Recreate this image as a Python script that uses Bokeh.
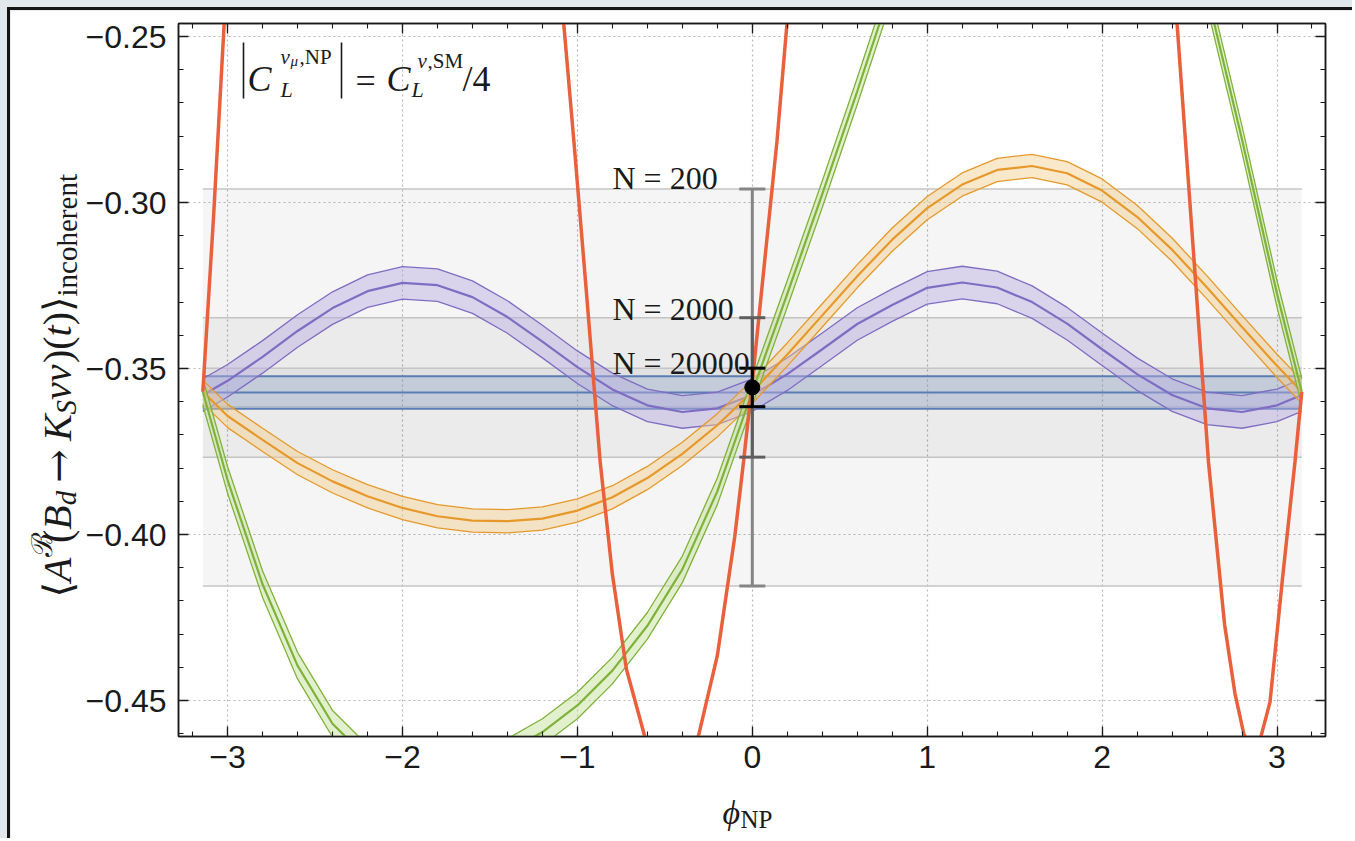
import math
from bokeh.plotting import figure
from bokeh.models import Range1d, LinearAxis, Label, FixedTicker, CustomJSTickFormatter
from bokeh.layouts import column
from bokeh.embed import file_html
from bokeh.resources import INLINE

PI = math.pi

# ---- data -------------------------------------------------------------
# common phase grid for the banded predictions
PHI = [-3.1416, -3.0, -2.8, -2.6, -2.4, -2.2, -2.0, -1.8, -1.6, -1.4, -1.2, -1.0,
       -0.8, -0.6, -0.4, -0.2, 0.0, 0.2, 0.4, 0.6, 0.8, 1.0, 1.2, 1.4, 1.6, 1.8,
       2.0, 2.2, 2.4, 2.6, 2.8, 3.0, 3.1416]

PURPLE_MID = [-0.3580, -0.3537, -0.3465, -0.3387, -0.3318, -0.3267, -0.3242, -0.3249,
              -0.3285, -0.3345, -0.3419, -0.3496, -0.3563, -0.3611, -0.3631, -0.3620,
              -0.3580, -0.3517, -0.3442, -0.3366, -0.3309, -0.3257, -0.3241, -0.3256,
              -0.3300, -0.3365, -0.3442, -0.3517, -0.3580, -0.3620, -0.3631, -0.3611,
              -0.3580]
PURPLE_HALF = 0.0049

ORANGE_MID = [-0.3570, -0.3643, -0.3715, -0.3785, -0.3840, -0.3885, -0.3920, -0.3945,
              -0.3958, -0.3960, -0.3952, -0.3928, -0.3888, -0.3830, -0.3757, -0.3671,
              -0.3570, -0.3458, -0.3340, -0.3222, -0.3112, -0.3017, -0.2946, -0.2902,
              -0.2890, -0.2912, -0.2964, -0.3043, -0.3142, -0.3256, -0.3375, -0.3492,
              -0.3570]
ORANGE_HALF = 0.0035

GREEN_MID = [-0.3570, -0.3836, -0.4150, -0.4395, -0.4570, -0.4675, -0.4700, -0.4712,
             -0.4695, -0.4655, -0.4595, -0.4515, -0.4410, -0.4275, -0.4105, -0.3870,
             -0.3570, -0.3275, -0.2975, -0.2665, -0.2345, -0.2020, -0.1750, -0.1550,
             -0.1450, -0.1450, -0.1550, -0.1750, -0.2050, -0.2370, -0.2810, -0.3275,
             -0.3570]
GREEN_HALF = 0.0040

# steep single-line prediction
RED_PHI = [-3.1416, -3.08, -3.02, -2.96, -1.14, -1.08, -1.02, -0.95, -0.87, -0.80,
           -0.72, -0.614, -0.53, -0.46, -0.38, -0.307, -0.2, -0.1, -0.05, 0.0, 0.07,
           0.141, 0.2, 0.26, 2.37, 2.427, 2.50, 2.56, 2.608, 2.70, 2.76, 2.81, 2.86,
           2.91, 2.96, 3.03, 3.103, 3.1416]
RED_MID = [-0.3570, -0.3040, -0.2465, -0.1900, -0.2090, -0.2450, -0.2816, -0.3260,
           -0.3780, -0.4120, -0.4405, -0.4610, -0.4672, -0.4690, -0.4670, -0.4605,
           -0.4365, -0.4005, -0.3780, -0.3540, -0.3180, -0.2816, -0.2450, -0.2050,
           -0.2040, -0.2450, -0.2985, -0.3425, -0.3780, -0.4270, -0.4480, -0.4600,
           -0.4655, -0.4605, -0.4505, -0.4140, -0.3780, -0.3570]

SM_MID = -0.3572
SM_HALF = 0.0049

PSEUDO_MEAN = -0.3557
N_EVENTS = ["N = 200", "N = 2000", "N = 20000"]
N_HALF = [0.0598, 0.0210, 0.0058]

X_TICKS = [-3, -2, -1, 0, 1, 2, 3]
Y_TICKS = [-0.45, -0.40, -0.35, -0.30, -0.25]

# ---- geometry helpers (page pixels -> data) -----------------------------
PX_PER_X = 174.9
PX_PER_Y = 3320.0
X_ZERO_PX = 751.8
Y_REF_PX = 36.0          # page row of the -0.25 tick


def dx(px):
    return (px - X_ZERO_PX) / PX_PER_X


def dy(py):
    return -0.25 - (py - Y_REF_PX) / PX_PER_Y


p = figure(width=1345, height=831,
           x_range=Range1d(dx(178), dx(1325)),
           y_range=Range1d(dy(736), dy(23)),
           output_backend="svg", toolbar_location=None,
           min_border_left=168, min_border_right=30,
           min_border_top=13, min_border_bottom=105,
           background_fill_color="white", border_fill_color="white")
p.outline_line_color = "#1a1a1a"
p.outline_line_width = 1.5

xt = FixedTicker(ticks=X_TICKS, minor_ticks=[round(-3.2 + 0.2 * i, 1) for i in range(33)])
yt = FixedTicker(ticks=Y_TICKS, minor_ticks=[round(-0.46 + 0.01 * i, 2) for i in range(22)])

bottom_ax = p.below[0]
left_ax = p.left[0]
bottom_ax.ticker = xt
left_ax.ticker = yt
bottom_ax.formatter = CustomJSTickFormatter(
    code="return (tick < -1e-9 ? '−' : '') + Math.abs(tick).toFixed(0);")
left_ax.formatter = CustomJSTickFormatter(
    code="return (tick < -1e-9 ? '−' : '') + Math.abs(tick).toFixed(2);")

blank = CustomJSTickFormatter(code="return '';")
top_ax = LinearAxis(ticker=xt, formatter=blank, major_label_text_font_size="1px",
                    major_label_standoff=0)
right_ax = LinearAxis(ticker=yt, formatter=blank, major_label_text_font_size="1px",
                      major_label_standoff=0)
p.add_layout(top_ax, "above")
p.add_layout(right_ax, "right")

for ax in [bottom_ax, left_ax, top_ax, right_ax]:
    ax.axis_line_color = "#1a1a1a"
    ax.axis_line_width = 1.5
    ax.major_tick_in = 10
    ax.major_tick_out = 0
    ax.minor_tick_in = 5
    ax.minor_tick_out = 0
    ax.major_tick_line_color = "#1a1a1a"
    ax.minor_tick_line_color = "#1a1a1a"
    ax.major_tick_line_width = 1.3
    ax.minor_tick_line_width = 1.1

for ax in [bottom_ax, left_ax]:
    ax.major_label_text_font = "Liberation Sans"
    ax.major_label_text_font_size = "32px"
    ax.major_label_text_color = "#1a1a1a"
bottom_ax.major_label_standoff = 9
left_ax.major_label_standoff = 12

p.xgrid.ticker = xt
p.ygrid.ticker = yt
for g in [p.xgrid[0], p.ygrid[0]]:
    g.grid_line_color = "#b8b8b8"
    g.grid_line_dash = "2 3"
    g.grid_line_width = 1.2

# ---- pseudo-experiment bands -----------------------------------------
edge = [-PI, PI]
for half in N_HALF:
    lo, hi = PSEUDO_MEAN - half, PSEUDO_MEAN + half
    p.varea(x=edge, y1=[lo, lo], y2=[hi, hi], fill_color="#000000", fill_alpha=0.04)
    p.line(x=edge, y=[lo, lo], line_color="#c4c4c4", line_width=1.5)
    p.line(x=edge, y=[hi, hi], line_color="#c4c4c4", line_width=1.5)

# SM band
p.varea(x=edge, y1=[SM_MID - SM_HALF] * 2, y2=[SM_MID + SM_HALF] * 2,
        fill_color="#8fa5cc", fill_alpha=0.35)
for v in [SM_MID - SM_HALF, SM_MID, SM_MID + SM_HALF]:
    p.line(x=edge, y=[v, v], line_color="#5a7db3", line_width=2)


def banded(mid, half, line_col, fill_col, fill_alpha):
    lo = [m - half for m in mid]
    hi = [m + half for m in mid]
    p.varea(x=PHI, y1=lo, y2=hi, fill_color=fill_col, fill_alpha=fill_alpha)
    p.line(x=PHI, y=lo, line_color=line_col, line_width=1.3)
    p.line(x=PHI, y=hi, line_color=line_col, line_width=1.3)
    p.line(x=PHI, y=mid, line_color=line_col, line_width=2.2)


banded(PURPLE_MID, PURPLE_HALF, "#7e6dc2", "#b7aee2", 0.45)
banded(ORANGE_MID, ORANGE_HALF, "#e6992a", "#f3cb8c", 0.45)
banded(GREEN_MID, GREEN_HALF, "#7fb23a", "#c8e29e", 0.5)

p.line(x=RED_PHI, y=RED_MID, line_color="#e8603c", line_width=3.5)

# ---- error bars for the three sample sizes ---------------------------
bar_cols = ["#858585", "#5e5e5e", "#000000"]
for half, col in zip(N_HALF, bar_cols):
    p.segment(x0=[0], y0=[PSEUDO_MEAN - half], x1=[0], y1=[PSEUDO_MEAN + half],
              line_color=col, line_width=3)
    p.scatter(x=[0, 0], y=[PSEUDO_MEAN - half, PSEUDO_MEAN + half], marker="dash",
              size=26, line_color=col, line_width=3)
p.scatter(x=[0], y=[PSEUDO_MEAN], size=15, fill_color="black", line_color="black")

# ---- text layer: a transparent figure laid over the plot, in page pixels ----
t = figure(width=1345, height=831, x_range=Range1d(10, 1355), y_range=Range1d(841, 10),
           output_backend="svg", toolbar_location=None, min_border=0, title=None,
           x_axis_location=None, y_axis_location=None,
           background_fill_alpha=0, border_fill_alpha=0)
t.outline_line_color = None
t.grid.visible = False

SERIF = "Liberation Serif"
INK = "#1a1a1a"


def put(text, px, py, size, italic=False, angle=0.0, font=SERIF, align="left"):
    t.add_layout(Label(x=px, y=py, text=text, text_font=font,
                       text_font_size=f"{size}px",
                       text_font_style="italic" if italic else "normal",
                       angle=angle, text_align=align, text_baseline="alphabetic",
                       text_color=INK))


# sample-size tags
for name, py in zip(N_EVENTS, [177, 308, 362]):
    put(name, 612, py, 32)

# coupling statement in the top-left corner
t.segment(x0=[243, 341], y0=[42, 42], x1=[243, 341], y1=[98, 98],
          line_color=INK, line_width=1.6)
put("C", 247, 78, 36, italic=True)
put("ν", 280, 56, 21, italic=True)
put("μ", 290, 60, 15, italic=True)
put(",NP", 299, 56, 21)
put("L", 280, 89, 22, italic=True)
put("=", 355, 80, 36)
put("C", 386, 78, 36, italic=True)
put("ν", 417, 60, 21, italic=True)
put(",SM", 427, 60, 21)
put("L", 411, 89, 22, italic=True)
put("/4", 462, 78, 36)

# x-axis title
put("ϕ", 722, 812, 34, italic=True)
put("NP", 740, 819, 25)

# y-axis title, laid out piece by piece from the bottom upwards
ROMAN_W = {' ': .25, '(': .333, ')': .333, '→': .84, '⟨': .39, '⟩': .39,
           'i': .278, 'n': .5, 'c': .444, 'o': .5, 'h': .5, 'e': .444, 'r': .333, 't': .278}
ITAL_W = {'A': .611, 'B': .611, 'K': .667, 'S': .5, 'd': .5, 't': .278, 'ν': .46, 'ℬ': .72}


def width(text, size, italic):
    table = ITAL_W if italic else ROMAN_W
    return sum(table.get(ch, .5) for ch in text) * size


S, s = 40, 29
ylabel_pieces = [
    ("⟨", S, False, 0, "DejaVu Serif"),
    ("A", S, True, 0, SERIF),
    ("ℬ", s, False, 16, "DejaVu Serif"),
    ("(", S, False, 0, SERIF),
    ("B", S, True, 0, SERIF),
    ("d", s, True, -8, SERIF),
    (None, 8, False, 0, None),
    ("→", S, False, 0, "DejaVu Serif"),
    (None, 8, False, 0, None),
    ("K", S, True, 0, SERIF),
    ("S", s, True, -8, SERIF),
    ("νν", S, True, 0, SERIF),
    (")(", S, False, 0, SERIF),
    ("t", S, True, 0, SERIF),
    (")", S, False, 0, SERIF),
    ("⟩", S, False, 0, "DejaVu Serif"),
    ("incoherent", s, False, -9, SERIF),
]
base_x, pos = 57, 597
for text, size, ital, shift, font in ylabel_pieces:
    if text is None:
        pos -= size
        continue
    put(text, base_x - shift, pos, size, italic=ital, angle=PI / 2, font=font)
    pos -= width(text, size, ital)

p.styles = {"border-top": "3px solid #141414", "border-left": "3px solid #141414"}
t.styles = {"position": "absolute", "left": "10px", "top": "10px"}
root = column(p, styles={"background-color": "#e2e7ec", "padding-top": "7px",
                         "padding-left": "7px"})

open("out.html", "w").write(file_html([root, t], INLINE))
